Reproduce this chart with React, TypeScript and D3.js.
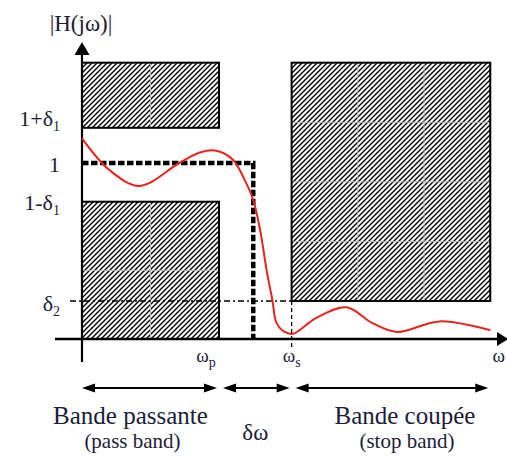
import React, { useEffect, useRef } from "react";
import * as d3 from "d3";

// frequency normalised so that wp = 1, magnitude
const responseOmega = [0, 0.2, 0.42, 0.71, 0.86, 0.98, 1.1, 1.19, 1.25, 1.3, 1.35, 1.39, 1.42, 1.48, 1.54, 1.71, 1.93, 2.12, 2.3, 2.61, 2.98];
const responseMag = [1.14, 0.96, 0.87, 1.0, 1.06, 1.07, 1.02, 0.9, 0.79, 0.62, 0.38, 0.22, 0.09, 0.04, 0.03, 0.12, 0.18, 0.09, 0.04, 0.1, 0.05];

// y tick labels: main text + subscript
const yTickMain = ["1+δ", "1", "1-δ", "δ"];
const yTickSub = ["1", "", "1", "2"];
const yTickValues = [1.2, 1, 0.78, 0.216];

// x tick labels
const xTickMain = ["ω", "ω", "ω"];
const xTickSub = ["p", "s", ""];
const xTickValues = [1, 1.53, 3.05];

// tolerance template
const stopEdge = 1.53;
const transitionMark = 1.25;
const delta2 = 0.216;

const maskX0 = [0, 0, 1.53];
const maskX1 = [1, 1, 2.98];
const maskY0 = [1.2, 0, 0.216];
const maskY1 = [1.57, 0.78, 1.57];

// bands under the axis
const bandNames = ["Bande passante", "δω", "Bande coupée"];
const bandNotes = ["(pass band)", "", "(stop band)"];
const bandFrom = [0, 1, 1.53];
const bandTo = [1, 1.53, 2.98];

const App: React.FC = () => {
  const chartRef = useRef<SVGSVGElement>(null);

  useEffect(() => {
    const width = 507;
    const height = 457;
    const ink = "#1c1c38";
    const font = "'Liberation Serif', Tinos, 'Times New Roman', 'DejaVu Serif', serif";

    const x = d3.scaleLinear().domain([0, 3]).range([82, 493]);
    const y = d3.scaleLinear().domain([0, 1.6]).range([339, 57.4]);

    const svg = d3.select(chartRef.current);
    svg.selectAll("*").remove();
    svg.attr("width", width).attr("height", height).style("font-family", font);

    // hatch pattern
    const defs = svg.append("defs");
    defs
      .append("pattern")
      .attr("id", "hatch")
      .attr("patternUnits", "userSpaceOnUse")
      .attr("width", 5)
      .attr("height", 5)
      .append("path")
      .attr("d", "M-1,1 l2,-2 M0,5 l5,-5 M4,6 l2,-2")
      .attr("stroke", "#000")
      .attr("stroke-width", 1.4);

    // hatched tolerance boxes
    const gridCols = [2, 2, 3];
    const gridRows = [1, 2, 4];
    maskX0.forEach((_, i) => {
      const bx0 = x(maskX0[i]);
      const bx1 = x(maskX1[i]);
      const by0 = y(maskY1[i]);
      const by1 = y(maskY0[i]);
      svg
        .append("rect")
        .attr("x", bx0)
        .attr("y", by0)
        .attr("width", bx1 - bx0)
        .attr("height", by1 - by0)
        .attr("fill", "url(#hatch)");
      // faint grid showing through the hatch
      for (let c = 1; c < gridCols[i]; c++) {
        const gx = bx0 + ((bx1 - bx0) * c) / gridCols[i];
        svg.append("line").attr("x1", gx).attr("x2", gx).attr("y1", by0).attr("y2", by1)
          .attr("stroke", "#b8b8b8").attr("stroke-width", 1);
      }
      for (let r = 1; r < gridRows[i]; r++) {
        const gy = by0 + ((by1 - by0) * r) / gridRows[i];
        svg.append("line").attr("x1", bx0).attr("x2", bx1).attr("y1", gy).attr("y2", gy)
          .attr("stroke", "#b8b8b8").attr("stroke-width", 1);
      }
      svg
        .append("rect")
        .attr("x", bx0)
        .attr("y", by0)
        .attr("width", bx1 - bx0)
        .attr("height", by1 - by0)
        .attr("fill", "none")
        .attr("stroke", "#000")
        .attr("stroke-width", 2);
    });

    // delta2 dash-dot line and ws drop line
    svg
      .append("line")
      .attr("x1", x(0) - 12)
      .attr("x2", x(stopEdge))
      .attr("y1", y(delta2))
      .attr("y2", y(delta2))
      .attr("stroke", "#000")
      .attr("stroke-width", 1.3)
      .attr("stroke-dasharray", "6,3,2,3");
    svg
      .append("line")
      .attr("x1", x(stopEdge))
      .attr("x2", x(stopEdge))
      .attr("y1", y(delta2))
      .attr("y2", y(0) + 11)
      .attr("stroke", "#000")
      .attr("stroke-width", 1.3)
      .attr("stroke-dasharray", "4,3");

    // ideal response: thick dashed
    svg
      .append("path")
      .attr("d", `M${x(0)},${y(1)} H${x(transitionMark)} V${y(0)}`)
      .attr("fill", "none")
      .attr("stroke", "#000")
      .attr("stroke-width", 4.5)
      .attr("stroke-dasharray", "6.5,2.5");

    // axes
    svg
      .append("line")
      .attr("x1", x(0))
      .attr("x2", x(0))
      .attr("y1", 54)
      .attr("y2", y(0) + 23)
      .attr("stroke", "#000")
      .attr("stroke-width", 2.2);
    svg
      .append("path")
      .attr("d", `M${x(0)},42 L${x(0) - 7.5},55 L${x(0) + 7.5},55 Z`)
      .attr("fill", "#000");
    svg
      .append("line")
      .attr("x1", x(0) - 27)
      .attr("x2", 498)
      .attr("y1", y(0))
      .attr("y2", y(0))
      .attr("stroke", "#000")
      .attr("stroke-width", 2.5);
    svg
      .append("path")
      .attr("d", `M508,${y(0)} L497,${y(0) - 7} L497,${y(0) + 7} Z`)
      .attr("fill", "#000");

    // actual response
    const line = d3
      .line<number>()
      .x((d) => x(d))
      .y((_, i) => y(responseMag[i]))
      .curve(d3.curveCatmullRom.alpha(0.5));
    svg
      .append("path")
      .datum(responseOmega)
      .attr("fill", "none")
      .attr("stroke", "#e8231c")
      .attr("stroke-width", 2)
      .attr("d", line);

    // axis title
    svg
      .append("text")
      .attr("x", 81)
      .attr("y", 31)
      .attr("text-anchor", "middle")
      .attr("font-family", font)
      .attr("font-size", 23)
      .attr("fill", ink)
      .text("|H(jω)|");

    // y tick labels
    const yOffsets = [-2, 9, 8, 10];
    yTickValues.forEach((v, i) => {
      const t = svg
        .append("text")
        .attr("x", 60)
        .attr("y", y(v) + yOffsets[i])
        .attr("text-anchor", "end")
        .attr("font-family", font)
        .attr("font-size", 22)
        .attr("fill", ink);
      t.append("tspan").text(yTickMain[i]);
      if (yTickSub[i]) t.append("tspan").attr("dy", 5).attr("font-size", 14).text(yTickSub[i]);
    });

    // x tick labels
    const xOffsets = [-13, 0, 0];
    xTickValues.forEach((v, i) => {
      const last = i === xTickValues.length - 1;
      const t = svg
        .append("text")
        .attr("x", last ? 505 : x(v) + xOffsets[i])
        .attr("y", 362)
        .attr("text-anchor", last ? "end" : "middle")
        .attr("font-family", font)
        .attr("font-size", 19)
        .attr("fill", ink);
      t.append("tspan").text(xTickMain[i]);
      if (xTickSub[i]) t.append("tspan").attr("dy", 5).attr("font-size", 14).text(xTickSub[i]);
    });

    // band arrows and names
    const arrowY = 388;
    const labelDx = [-20, 0, 14];
    const head = (tipX: number, dir: number) =>
      `M${tipX},${arrowY} L${tipX - dir * 13},${arrowY - 4.5} L${tipX - dir * 13},${arrowY + 4.5} Z`;
    bandNames.forEach((name, i) => {
      const a0 = x(bandFrom[i]) + (i === 0 ? 0 : 4);
      const a1 = x(bandTo[i]) - 2;
      svg
        .append("line")
        .attr("x1", a0 + 4)
        .attr("x2", a1 - 4)
        .attr("y1", arrowY)
        .attr("y2", arrowY)
        .attr("stroke", "#000")
        .attr("stroke-width", 1.8);
      svg.append("path").attr("d", head(a0, -1)).attr("fill", "#000");
      svg.append("path").attr("d", head(a1, 1)).attr("fill", "#000");

      const cx = (x(bandFrom[i]) + x(bandTo[i])) / 2 + labelDx[i];
      svg
        .append("text")
        .attr("x", cx)
        .attr("y", i === 1 ? 440 : 424)
        .attr("text-anchor", "middle")
        .attr("font-family", font)
        .attr("font-size", i === 1 ? 23 : 25)
        .attr("fill", ink)
        .text(name);
      if (bandNotes[i]) {
        svg
          .append("text")
          .attr("x", cx + 2)
          .attr("y", 448)
          .attr("text-anchor", "middle")
          .attr("font-family", font)
          .attr("font-size", 21)
          .attr("fill", ink)
          .text(bandNotes[i]);
      }
    });
  }, []);

  return (
    <div style={{ position: "absolute", left: 0, top: 0, background: "#fff" }}>
      <svg ref={chartRef} style={{ display: "block" }}></svg>
    </div>
  );
};

export default App;
